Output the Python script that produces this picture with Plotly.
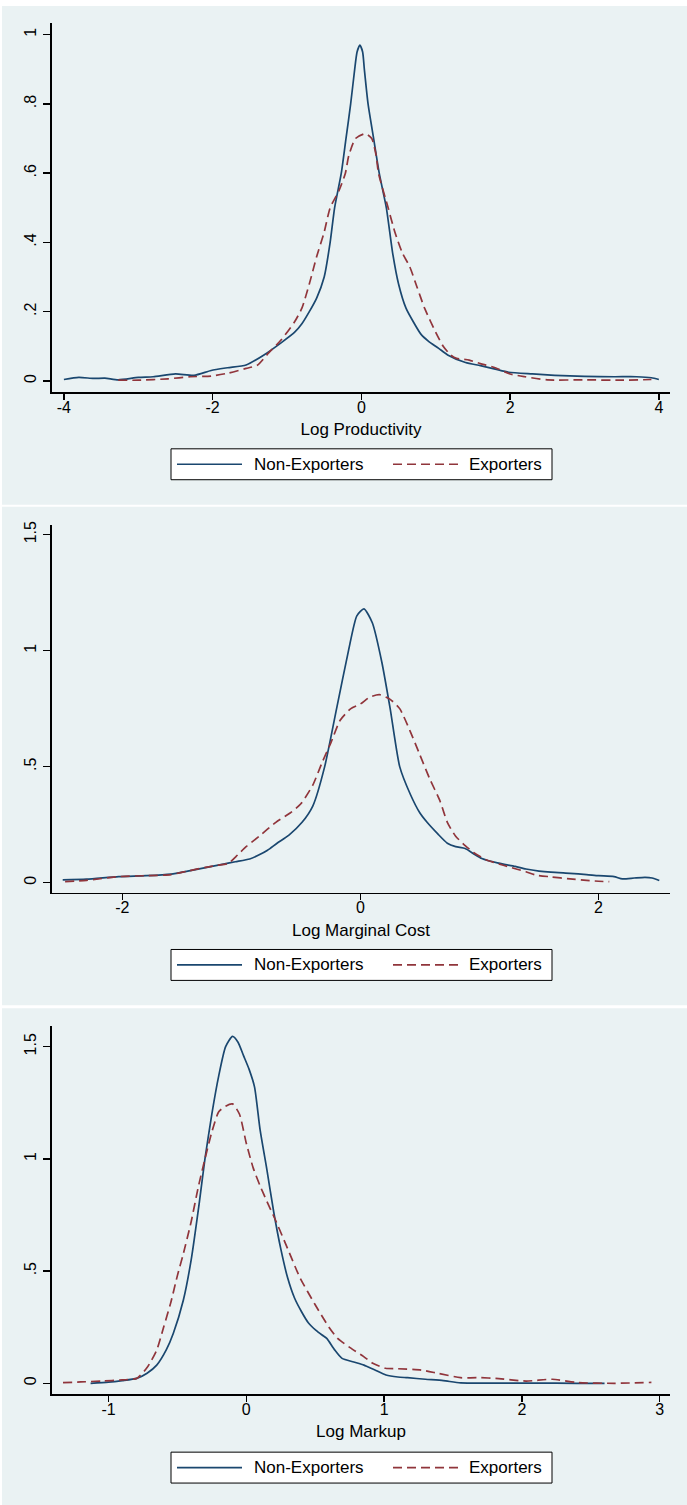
import plotly.graph_objects as go

W, H = 687, 1505
NAVY = "#1A476F"
MAROON = "#90353B"
BG = "#EAF2F3"
FONT = "Liberation Sans, Arial, sans-serif"

series_names = ["Non-Exporters", "Exporters"]
x_titles = ["Log Productivity", "Log Marginal Cost", "Log Markup"]

# ---------- Panel 1: Log Productivity ----------
prod_x_non = [-4.0, -3.8, -3.6, -3.45, -3.27, -3.0, -2.8, -2.5, -2.25, -2.02, -1.8, -1.55, -1.31,
              -1.08, -0.9, -0.8, -0.7, -0.6, -0.5, -0.42, -0.36, -0.27, -0.207, -0.144, -0.09, -0.058,
              -0.02, 0.017, 0.04, 0.09, 0.165, 0.24, 0.336, 0.42, 0.5, 0.6, 0.7, 0.8, 0.9, 1.04, 1.16,
              1.4, 1.6, 1.8, 1.98, 2.3, 2.6, 3.0, 3.4, 3.7, 3.9, 4.0]
prod_y_non = [0.004, 0.010, 0.007, 0.008, 0.003, 0.010, 0.012, 0.020, 0.016, 0.030, 0.038, 0.046, 0.075,
              0.11, 0.14, 0.165, 0.20, 0.24, 0.30, 0.40, 0.50, 0.60, 0.70, 0.80, 0.90, 0.95,
              0.97, 0.95, 0.90, 0.80, 0.70, 0.60, 0.50, 0.37, 0.28, 0.21, 0.17, 0.135, 0.115, 0.094, 0.075,
              0.053, 0.044, 0.034, 0.025, 0.02, 0.016, 0.013, 0.012, 0.012, 0.009, 0.004]
prod_x_exp = [-3.27, -3.0, -2.6, -2.3, -2.02, -1.8, -1.55, -1.4, -1.25, -1.08, -0.9, -0.8, -0.7, -0.6,
              -0.5, -0.42, -0.3, -0.215, -0.17, -0.08, 0.054, 0.14, 0.2, 0.23, 0.36, 0.45, 0.55, 0.65,
              0.75, 0.85, 1.0, 1.1, 1.2, 1.28, 1.45, 1.6, 1.8, 2.0, 2.2, 2.5, 3.0, 3.5, 3.9]
prod_y_exp = [0.002, 0.002, 0.006, 0.012, 0.014, 0.022, 0.036, 0.045, 0.08, 0.118, 0.17, 0.21, 0.28, 0.36,
              0.43, 0.50, 0.55, 0.60, 0.65, 0.70, 0.714, 0.70, 0.65, 0.60, 0.50, 0.43, 0.37, 0.33,
              0.27, 0.21, 0.14, 0.10, 0.075, 0.065, 0.06, 0.05, 0.038, 0.02, 0.012, 0.003, 0.003, 0.002, 0.004]

# ---------- Panel 2: Log Marginal Cost ----------
mc_x_non = [-2.5, -2.3, -2.03, -1.8, -1.59, -1.45, -1.3, -1.15, -1.05, -0.93, -0.85, -0.78, -0.7, -0.6,
            -0.49, -0.4, -0.3, -0.2, -0.1, -0.03, 0.03, 0.1, 0.18, 0.25, 0.33, 0.42, 0.5, 0.56, 0.65,
            0.73, 0.8, 0.88, 0.95, 1.02, 1.15, 1.3, 1.39, 1.5, 1.6, 1.76, 1.9, 2.0, 2.13, 2.2, 2.3,
            2.39, 2.45, 2.51]
mc_y_non = [0.012, 0.015, 0.026, 0.03, 0.037, 0.05, 0.065, 0.08, 0.09, 0.102, 0.12, 0.14, 0.17, 0.205,
            0.26, 0.33, 0.5, 0.75, 1.0, 1.15, 1.18, 1.12, 0.95, 0.75, 0.5, 0.38, 0.3, 0.26, 0.21,
            0.17, 0.155, 0.147, 0.125, 0.104, 0.085, 0.07, 0.059, 0.05, 0.045, 0.04, 0.035, 0.03, 0.026,
            0.016, 0.02, 0.023, 0.02, 0.009]
mc_x_exp = [-2.48, -2.3, -2.03, -1.8, -1.59, -1.45, -1.3, -1.2, -1.11, -1.03, -0.96, -0.85, -0.71, -0.59,
            -0.5, -0.4, -0.32, -0.25, -0.17, -0.08, 0.0, 0.08, 0.16, 0.25, 0.33, 0.42, 0.5, 0.58, 0.67,
            0.73, 0.8, 0.88, 0.95, 1.05, 1.2, 1.39, 1.47, 1.6, 1.76, 1.9, 2.0, 2.09]
mc_y_exp = [0.004, 0.01, 0.026, 0.03, 0.035, 0.05, 0.066, 0.075, 0.083, 0.12, 0.155, 0.2, 0.26, 0.3,
            0.34, 0.42, 0.52, 0.6, 0.7, 0.75, 0.77, 0.8, 0.81, 0.79, 0.75, 0.65, 0.55, 0.45, 0.35,
            0.26, 0.2, 0.16, 0.13, 0.1, 0.075, 0.047, 0.033, 0.025, 0.016, 0.01, 0.006, 0.004]

# ---------- Panel 3: Log Markup ----------
mk_x_non = [-1.13, -1.0, -0.9, -0.795, -0.72, -0.65, -0.58, -0.53, -0.457, -0.4, -0.34, -0.3, -0.25,
            -0.2, -0.15, -0.1, -0.06, -0.02, 0.02, 0.06, 0.1, 0.15, 0.2, 0.25, 0.3, 0.35, 0.4, 0.45,
            0.504, 0.55, 0.584, 0.64, 0.695, 0.78, 0.854, 0.93, 1.014, 1.1, 1.17, 1.3, 1.43, 1.555,
            1.8, 2.1, 2.4, 2.6]
mk_y_non = [0.0, 0.005, 0.012, 0.022, 0.045, 0.081, 0.15, 0.222, 0.37, 0.55, 0.81, 1.0, 1.2,
            1.37, 1.5, 1.546, 1.52, 1.46, 1.4, 1.32, 1.13, 0.95, 0.76, 0.6, 0.47, 0.38, 0.32, 0.27,
            0.237, 0.215, 0.2, 0.15, 0.111, 0.095, 0.081, 0.06, 0.037, 0.028, 0.025, 0.018, 0.012, 0.002,
            0.001, 0.001, 0.0, 0.0]
mk_x_exp = [-1.33, -1.2, -1.05, -0.9, -0.795, -0.72, -0.65, -0.6, -0.55, -0.5, -0.46, -0.4, -0.35,
            -0.3, -0.25, -0.2, -0.15, -0.1, -0.05, 0.0, 0.05, 0.1, 0.15, 0.21, 0.3, 0.39, 0.5, 0.6,
            0.663, 0.75, 0.85, 0.918, 1.01, 1.1, 1.27, 1.395, 1.555, 1.7, 1.81, 2.03, 2.22, 2.41,
            2.67, 2.94]
mk_y_exp = [0.003, 0.006, 0.01, 0.015, 0.022, 0.07, 0.148, 0.25, 0.355, 0.48, 0.57, 0.72, 0.87,
            1.0, 1.12, 1.21, 1.235, 1.245, 1.2, 1.07, 0.96, 0.88, 0.81, 0.73, 0.6, 0.47, 0.35, 0.25,
            0.2, 0.16, 0.12, 0.089, 0.067, 0.065, 0.059, 0.044, 0.025, 0.025, 0.022, 0.01, 0.018, 0.003,
            0.0, 0.004]

y_tickvals_1 = [0, 0.2, 0.4, 0.6, 0.8, 1]
y_ticktext_1 = ["0", ".2", ".4", ".6", ".8", "1"]
y_tickvals_23 = [0, 0.5, 1, 1.5]
y_ticktext_23 = ["0", ".5", "1", "1.5"]
x_tickvals_1 = [-4, -2, 0, 2, 4]
x_ticktext_1 = ["-4", "-2", "0", "2", "4"]
x_tickvals_2 = [-2, 0, 2]
x_ticktext_2 = ["-2", "0", "2"]
x_tickvals_3 = [-1, 0, 1, 2, 3]
x_ticktext_3 = ["-1", "0", "1", "2", "3"]

panels = [
    dict(xs=(prod_x_non, prod_x_exp), ys=(prod_y_non, prod_y_exp), xr=[-4.16, 4.15], yr=[-0.032, 1.034],
         xt=(x_tickvals_1, x_ticktext_1), yt=(y_tickvals_1, y_ticktext_1), plot=(19, 389), bg=(2, 502),
         leg=(446, 477), grid=y_tickvals_1),
    dict(xs=(mc_x_non, mc_x_exp), ys=(mc_y_non, mc_y_exp), xr=[-2.59, 2.6], yr=[-0.043, 1.543],
         xt=(x_tickvals_2, x_ticktext_2), yt=(y_tickvals_23, y_ticktext_23), plot=(522, 891), bg=(504, 1004),
         leg=(948, 979), grid=[0, 0.5, 1]),
    dict(xs=(mk_x_non, mk_x_exp), ys=(mk_y_non, mk_y_exp), xr=[-1.41, 3.075], yr=[-0.049, 1.591],
         xt=(x_tickvals_3, x_ticktext_3), yt=(y_tickvals_23, y_ticktext_23), plot=(1025, 1394), bg=(1007, 1505),
         leg=(1452, 1483), grid=y_tickvals_23),
]

def py(p):
    return 1 - p / H

def px(p):
    return p / W

fig = go.Figure()
shapes = []
annotations = []
layout = dict(
    width=W, height=H, margin=dict(l=0, r=0, t=0, b=0),
    paper_bgcolor="white", plot_bgcolor="white", showlegend=False,
    font=dict(family=FONT, color="black", size=16),
)

for i, p in enumerate(panels):
    k = "" if i == 0 else str(i + 1)
    xa, ya = "x" + k, "y" + k
    for j, (name, color) in enumerate(zip(series_names, [NAVY, MAROON])):
        fig.add_trace(go.Scatter(
            x=p["xs"][j], y=p["ys"][j], mode="lines", name=name, xaxis=xa, yaxis=ya,
            line=dict(color=color, width=1.7, shape="spline", smoothing=0.6,
                      dash="solid" if j == 0 else "9px,5px"),
            showlegend=False, hoverinfo="skip",
        ))
    top, bot = p["plot"]
    layout["xaxis" + k] = dict(
        domain=[px(52), px(670)], anchor=ya, range=p["xr"], tickmode="array",
        tickvals=p["xt"][0], ticktext=p["xt"][1],
        showgrid=False, zeroline=False, showline=True, linecolor="black", linewidth=1.6,
        ticks="outside", ticklen=6, tickwidth=1.4, tickcolor="black",
        tickfont=dict(size=16, family=FONT, color="black"), ticklabelstandoff=-6,
        title=dict(text=x_titles[i], font=dict(size=17, family=FONT, color="black"), standoff=8),
        fixedrange=True,
    )
    layout["yaxis" + k] = dict(
        domain=[py(bot), py(top)], anchor=xa, range=p["yr"], tickmode="array",
        tickvals=p["yt"][0], ticktext=p["yt"][1], tickangle=-90,
        showgrid=False, zeroline=False, showline=True, linecolor="black", linewidth=1.6,
        ticks="outside", ticklen=7, tickwidth=1.4, tickcolor="black",
        tickfont=dict(size=16, family=FONT, color="black"), ticklabelstandoff=1,
        fixedrange=True,
    )
    # gridlines through the axis scale
    for g in p["grid"]:
        shapes.append(dict(type="line", xref=xa + " domain", yref=ya, x0=0, x1=1, y0=g, y1=g,
                           line=dict(color=BG, width=2), layer="below"))
    # panel background
    b0, b1 = p["bg"]
    shapes.append(dict(type="rect", xref="paper", yref="paper", x0=px(2), x1=1.0,
                       y0=py(b1), y1=py(b0), fillcolor=BG, line=dict(width=0), layer="below"))
    # legend box
    l0, l1 = p["leg"]
    lm = (l0 + l1) / 2
    shapes.append(dict(type="rect", xref="paper", yref="paper", x0=px(171), x1=px(552),
                       y0=py(l1), y1=py(l0), fillcolor="white", line=dict(color="black", width=1),
                       layer="above"))
    shapes.append(dict(type="line", xref="paper", yref="paper", x0=px(177), x1=px(242),
                       y0=py(lm), y1=py(lm), line=dict(color=NAVY, width=1.7), layer="above"))
    shapes.append(dict(type="line", xref="paper", yref="paper", x0=px(393), x1=px(458),
                       y0=py(lm), y1=py(lm), line=dict(color=MAROON, width=1.7, dash="9px,5px"),
                       layer="above"))
    annotations.append(dict(xref="paper", yref="paper", x=px(252), y=py(lm), text=series_names[0],
                            showarrow=False, xanchor="left", yanchor="middle",
                            font=dict(size=17, family=FONT, color="black")))
    annotations.append(dict(xref="paper", yref="paper", x=px(467), y=py(lm), text=series_names[1],
                            showarrow=False, xanchor="left", yanchor="middle",
                            font=dict(size=17, family=FONT, color="black")))

layout["shapes"] = shapes
layout["annotations"] = annotations
fig.update_layout(**layout)
fig.write_html("out.html", config={"displayModeBar": False, "staticPlot": True},
               post_script="document.body.style.margin='0';document.body.style.overflow='hidden';")
